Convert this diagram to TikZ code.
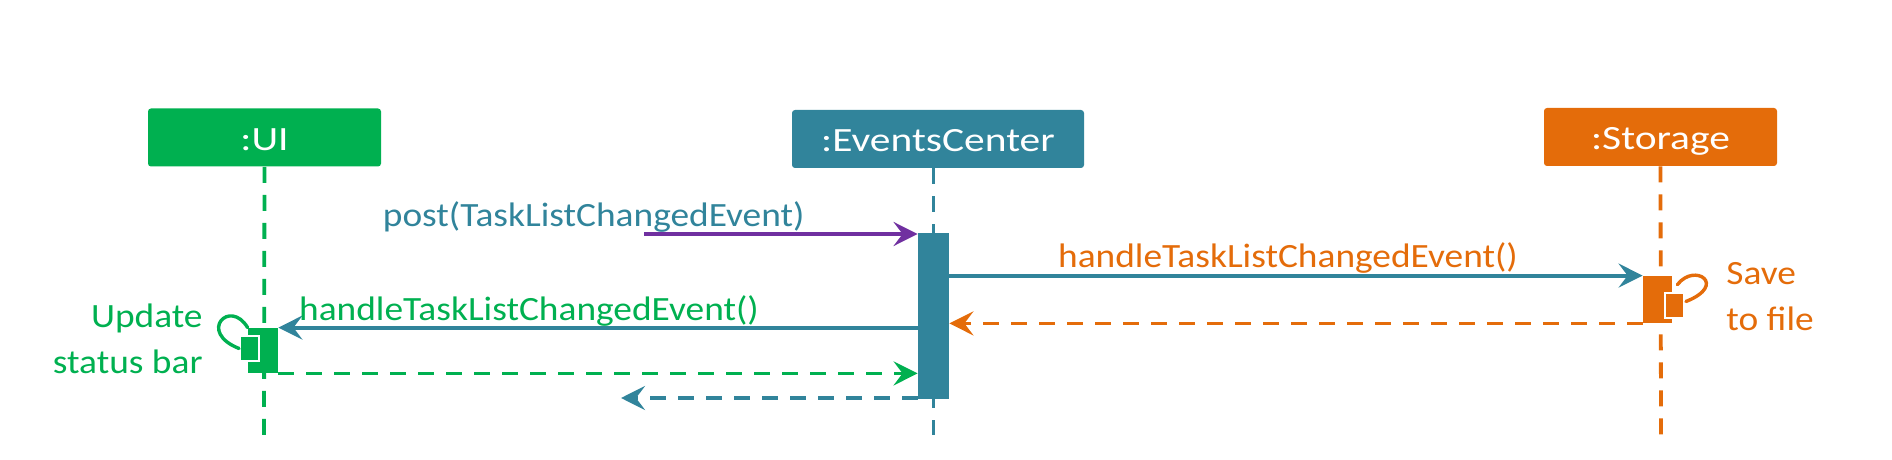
\documentclass[tikz,border=0pt]{standalone}
\usepackage{fontspec}
\setmainfont{Carlito}[FakeStretch=1.1]
\newfontfamily\boxfont{Carlito}[FakeStretch=1.22]
\usepackage{xcolor}
\usepackage{tikz}
\usetikzlibrary{arrows.meta,positioning,calc,backgrounds}
\definecolor{uigreen}{HTML}{00B050}
\definecolor{evteal}{HTML}{31849B}
\definecolor{storange}{HTML}{E46C0A}
\definecolor{postpurple}{HTML}{7030A0}

\begin{document}
\begin{tikzpicture}[x=0.5pt,y=-0.5pt]
    \tikzset{
      box/.style={rounded corners=1.5pt,fill=#1,text=white,minimum width=116.5pt,minimum height=29pt,inner sep=0pt,text height=15pt,text depth=2pt,font=\boxfont\fontsize{17}{20}\selectfont},
      lifeline/.style={draw=#1,line width=1.9pt,dash pattern=on 8pt off 6pt},
      activation/.style={fill=#1,inner sep=0pt,minimum width=15pt},
      selfbox/.style={fill=#1,draw=white,line width=0.9pt,inner sep=0pt,minimum width=9.5pt,minimum height=12.5pt},
      call/.style={-{Stealth[length=12pt,width=12pt,inset=4.5pt]},draw=#1,line width=1.9pt},
      reply/.style={call=#1,dash pattern=on 8pt off 6pt},
      selfloop/.style={draw=#1,line width=1.7pt,line cap=round},
      lbl/.style={text=#1,inner sep=0pt,font=\fontsize{17}{23}\selectfont}
    }
    \useasboundingbox (0,0) rectangle (1892,460);
    % participants
    \node[box=uigreen] (ui) at (264.5,137.5) {:UI};
    \node[box=evteal,minimum width=146pt] (ec) at (938,139) {:EventsCenter};
    \node[box=storange] (st) at (1660.5,137) {:Storage};
    % activations
    \node[activation=uigreen,minimum height=22.5pt] (uiact) at (263,350.5) {};
    \node[activation=evteal,minimum width=15.5pt,minimum height=83pt] (ecact) at (933.5,316) {};
    \node[activation=storange,minimum width=14.5pt,minimum height=23.5pt] (stact) at (1657.5,299.5) {};
    \coordinate (uiend) at (264,435);
    \coordinate (ecend) at (933.5,435);
    \coordinate (stend) at (1661,435);
    \coordinate (postsrc) at (644,234);
    \coordinate (retend) at (621,398);
    % lifelines
    \begin{scope}[on background layer]
      \draw[lifeline=uigreen] (ui.south) -- (uiend);
      \draw[lifeline=evteal] (ec.south -| ecact) -- (ecend);
      \draw[lifeline=storange] (st.south) -- (stend);
    \end{scope}
    % self calls
    \node[selfbox=uigreen] (uiself) at (249.5,348.5) {};
    \node[selfbox=storange] (stself) at (1674.5,305.5) {};
    \draw[selfloop=uigreen] (uiact.north west) .. controls (230,298) and (197,332) .. (uiself.west);
    \draw[selfloop=storange] ($(stact.north east)+(5,9)$) .. controls (1695,262) and (1728,285) .. ($(stself.east)+(1,-4)$);
    % messages
    \draw[call=postpurple] (postsrc) -- (postsrc -| ecact.west);
    \draw[call=evteal] (ecact.east |- stact.north) -- (stact.north west);
    \draw[reply=storange] (stact.south west) -- (ecact.east |- stact.south);
    \draw[call=evteal] (ecact.west |- uiact.north) -- (uiact.north east);
    \draw[reply=uigreen] (uiact.south east) -- (ecact.west |- uiact.south);
    \draw[reply=evteal] (ecact.west |- retend) -- (retend);
    % labels
    \node[lbl=evteal,anchor=base east] (postlbl) at (805,227) {post(TaskListChangedEvent)};
    \node[lbl=storange,anchor=base] (savelbl) at (1288,267) {handleTaskListChangedEvent()};
    \node[lbl=uigreen,anchor=base] (updlbl) at (529,320) {handleTaskListChangedEvent()};
    \node[lbl=uigreen,anchor=base east,align=right] (uinote) at (203,373) {Update\\status bar};
    \node[lbl=storange,anchor=base west,align=left] (stnote) at (1726,330) {Save\\to file};
  \end{tikzpicture}
\end{document}
